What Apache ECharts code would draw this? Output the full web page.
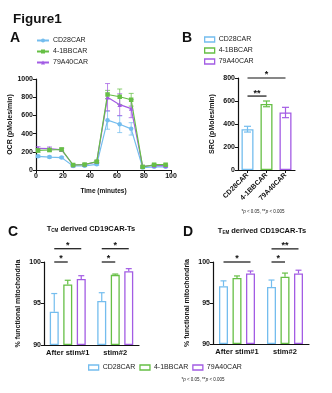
<!DOCTYPE html>
<html>
<head>
<meta charset="utf-8">
<script src="https://cdn.jsdelivr.net/npm/echarts@6/dist/echarts.min.js"></script>
<style>
  html, body { margin: 0; padding: 0; background: #fff; }
  #main { width: 332px; height: 393px; }
</style>
</head>
<body>
<div id="main"></div>
<script>
// ---- panel A : OCR time course ----
var times = [1.5, 10, 19, 27.5, 36, 45, 53, 62, 70.5, 79, 87.5, 96];
var ocrCD28 = [150, 142, 136, 44, 46, 62, 548, 503, 452, 27, 35, 35];
var ocrCD28Sd = [12, 10, 10, 8, 8, 10, 100, 92, 68, 8, 8, 8];
var ocr41BB = [215, 220, 225, 55, 60, 92, 830, 805, 772, 35, 58, 58];
var ocr41BBSd = [20, 18, 18, 8, 8, 10, 45, 85, 70, 8, 8, 8];
var ocr79A40 = [238, 235, 222, 55, 60, 90, 800, 718, 675, 40, 50, 48];
var ocr79A40Sd = [18, 18, 15, 8, 8, 10, 150, 120, 100, 8, 8, 8];

// ---- panel B : SRC ----
var cars = ['CD28CAR', '4-1BBCAR', '79A40CAR'];
var src = [355, 575, 500];
var srcSd = [25, 25, 45];
// [from, to, level]
var sigB = [[0, 1, 643], [0, 2, 800]];
var sigBText = ['**', '*'];

// ---- panels C / D : % functional mitochondria ----
var stims = ['After stim#1', 'stim#2'];
var tcmCD28 = [94.0, 95.3], tcmCD28Sd = [2.2, 1.0];
var tcm41BB = [97.3, 98.45], tcm41BBSd = [0.5, 0.1];
var tcm79A40 = [97.95, 98.9], tcm79A40Sd = [0.4, 0.3];
var temCD28 = [97.05, 96.95], temCD28Sd = [0.65, 0.85];
var tem41BB = [98.05, 98.2], tem41BBSd = [0.25, 0.45];
var tem79A40 = [98.6, 98.6], tem79A40Sd = [0.3, 0.4];
// [category, fromBar, toBar, level]
var sigC = [[0, 0, 1, 100.0], [0, 0, 2, 101.6], [1, 0, 1, 100.0], [1, 0, 2, 101.6]];
var sigCText = ['*', '*', '*', '*'];
var sigD = [[0, 0, 2, 100.0], [1, 0, 1, 100.0], [1, 0, 2, 101.6]];
var sigDText = ['*', '*', '**'];

var colors = ['#74BDEE', '#66BF45', '#A35CE4'];
var FONT = 'Liberation Sans';
var BW = 9;        // bar width in C / D
var BSTEP = BW * 1.5; // bar width + 50% gap

var chart = echarts.init(document.getElementById('main'));

function axisBase(extra) {
  var a = {
    axisLine: { show: true, lineStyle: { color: '#111', width: 1.2 } },
    axisTick: { show: true, length: 3, lineStyle: { color: '#111', width: 1 } },
    axisLabel: { fontSize: 7, fontWeight: 'bold', color: '#111', margin: 3, fontFamily: FONT,
      formatter: function (v) { return String(v); } },
    splitLine: { show: false },
    nameTextStyle: { fontSize: 7, fontWeight: 'bold', color: '#111', fontFamily: FONT }
  };
  for (var k in extra) a[k] = extra[k];
  return a;
}

function pairs(xs, ys) {
  return xs.map(function (x, i) { return [x, ys[i]]; });
}
function triples(xs, ys, sd) {
  return xs.map(function (x, i) { return [x, ys[i], sd[i]]; });
}

function lineSeries(name, vals, color, symbol) {
  return {
    name: name, type: 'line', xAxisIndex: 0, yAxisIndex: 0,
    data: pairs(times, vals), symbol: symbol, symbolSize: 4.5,
    lineStyle: { color: color, width: 1.2 }, itemStyle: { color: color },
    silent: true, z: 3
  };
}

function errA(vals, sd, color) {
  return {
    type: 'custom', xAxisIndex: 0, yAxisIndex: 0, data: triples(times, vals, sd),
    encode: { x: 0, y: 1 }, silent: true, z: 2,
    renderItem: function (params, api) {
      var hi = api.coord([api.value(0), api.value(1) + api.value(2)]);
      var lo = api.coord([api.value(0), api.value(1) - api.value(2)]);
      var st = { stroke: color, lineWidth: 1, opacity: 0.75 };
      return { type: 'group', children: [
        { type: 'line', shape: { x1: hi[0], y1: hi[1], x2: lo[0], y2: lo[1] }, style: st },
        { type: 'line', shape: { x1: hi[0] - 2.5, y1: hi[1], x2: hi[0] + 2.5, y2: hi[1] }, style: st },
        { type: 'line', shape: { x1: lo[0] - 2.5, y1: lo[1], x2: lo[0] + 2.5, y2: lo[1] }, style: st }
      ] };
    }
  };
}

// panel B bars: one series per CAR, overlapping so each sits on its own category
function barB(i) {
  var d = cars.map(function (c, j) { return j === i ? src[j] : '-'; });
  return {
    name: cars[i] + '|B', type: 'bar', xAxisIndex: 1, yAxisIndex: 1, data: d,
    barWidth: 12, barGap: '-100%', silent: true,
    itemStyle: { color: '#fff', borderColor: colors[i], borderWidth: 1.3 }
  };
}

var errB = {
  type: 'custom', xAxisIndex: 1, yAxisIndex: 1,
  data: cars.map(function (c, i) { return [i, src[i], srcSd[i]]; }),
  encode: { x: 0, y: 1 }, silent: true, z: 3,
  renderItem: function (params, api) {
    var hi = api.coord([api.value(0), api.value(1) + api.value(2)]);
    var lo = api.coord([api.value(0), api.value(1) - api.value(2)]);
    var st = { stroke: colors[params.dataIndex], lineWidth: 1.2 };
    return { type: 'group', children: [
      { type: 'line', shape: { x1: hi[0], y1: hi[1], x2: lo[0], y2: lo[1] }, style: st },
      { type: 'line', shape: { x1: hi[0] - 3.5, y1: hi[1], x2: hi[0] + 3.5, y2: hi[1] }, style: st },
      { type: 'line', shape: { x1: lo[0] - 3.5, y1: lo[1], x2: lo[0] + 3.5, y2: lo[1] }, style: st }
    ] };
  }
};

function starText(x, y, txt) {
  return { type: 'text', x: x, y: y - 3,
    style: { text: txt, textAlign: 'center', textVerticalAlign: 'middle', fill: '#111',
      font: 'bold 9px "' + FONT + '"' } };
}

var sigBSeries = {
  type: 'custom', xAxisIndex: 1, yAxisIndex: 1, data: sigB,
  encode: { x: 0, y: 2 }, silent: true, clip: false, z: 4,
  renderItem: function (params, api) {
    var p1 = api.coord([api.value(0), api.value(2)]);
    var p2 = api.coord([api.value(1), api.value(2)]);
    return { type: 'group', children: [
      { type: 'line', shape: { x1: p1[0], y1: p1[1], x2: p2[0], y2: p2[1] }, style: { stroke: '#111', lineWidth: 1.2 } },
      starText((p1[0] + p2[0]) / 2, p1[1], sigBText[params.dataIndex])
    ] };
  }
};

function barCD(name, vals, color, gi) {
  return {
    name: name, type: 'bar', xAxisIndex: gi, yAxisIndex: gi, data: vals,
    barWidth: BW, barGap: '50%', silent: true,
    itemStyle: { color: '#fff', borderColor: color, borderWidth: 1.3 }
  };
}

function errCD(vals, sd, k, gi) {
  return {
    type: 'custom', xAxisIndex: gi, yAxisIndex: gi,
    data: vals.map(function (v, i) { return [i, v, sd[i]]; }),
    encode: { x: 0, y: 1 }, silent: true, z: 3,
    renderItem: function (params, api) {
      var c = api.coord([api.value(0), api.value(1)]);
      var t = api.coord([api.value(0), api.value(1) + api.value(2)]);
      var x = c[0] + (k - 1) * BSTEP;
      var st = { stroke: colors[k], lineWidth: 1.2 };
      return { type: 'group', children: [
        { type: 'line', shape: { x1: x, y1: c[1], x2: x, y2: t[1] }, style: st },
        { type: 'line', shape: { x1: x - 3, y1: t[1], x2: x + 3, y2: t[1] }, style: st }
      ] };
    }
  };
}

function sigCD(data, labels, gi) {
  return {
    type: 'custom', xAxisIndex: gi, yAxisIndex: gi, data: data,
    encode: { x: 0, y: 3 }, silent: true, clip: false, z: 4,
    renderItem: function (params, api) {
      var p = api.coord([api.value(0), api.value(3)]);
      var x1 = p[0] + (api.value(1) - 1) * BSTEP;
      var x2 = p[0] + (api.value(2) - 1) * BSTEP;
      return { type: 'group', children: [
        { type: 'line', shape: { x1: x1, y1: p[1], x2: x2, y2: p[1] }, style: { stroke: '#111', lineWidth: 1.2 } },
        starText((x1 + x2) / 2, p[1], labels[params.dataIndex])
      ] };
    }
  };
}

function hollowItem(name, i) {
  return { name: name, icon: 'rect', itemStyle: { color: '#fff', borderColor: colors[i], borderWidth: 1.3 } };
}
var legendText = { fontSize: 7, color: '#222', fontFamily: FONT, padding: [0, 0, 0, -1] };
function stripTag(n) { return n.split('|')[0]; }

var footRich = {
  n: { fontSize: 4.5, fontFamily: FONT, fill: '#222' },
  i: { fontSize: 4.5, fontFamily: FONT, fontStyle: 'italic', fill: '#222' }
};

var catLabel = { fontSize: 7.5, fontWeight: 'bold', color: '#111', margin: 4, fontFamily: FONT, interval: 0 };

var option = {
  animation: false,
  backgroundColor: '#fff',
  textStyle: { fontFamily: FONT },
  grid: [
    { left: 36, top: 79, width: 135, height: 91 },
    { left: 238, top: 78, width: 57, height: 92 },
    { left: 44, top: 262, width: 95, height: 83 },
    { left: 213, top: 262, width: 96, height: 82 }
  ],
  xAxis: [
    axisBase({ gridIndex: 0, type: 'value', min: 0, max: 100, interval: 20,
      name: 'Time (minutes)', nameLocation: 'middle', nameGap: 18,
      nameTextStyle: { fontSize: 6.5, fontWeight: 'bold', color: '#111', fontFamily: FONT } }),
    axisBase({ gridIndex: 1, type: 'category', data: cars,
      axisTick: { show: true, alignWithLabel: true, length: 3, lineStyle: { color: '#111', width: 1 } },
      axisLabel: { rotate: 45, fontSize: 7, fontWeight: 'bold', color: '#111', margin: 4, fontFamily: FONT, interval: 0 } }),
    axisBase({ gridIndex: 2, type: 'category', data: stims, axisTick: { show: false }, axisLabel: catLabel }),
    axisBase({ gridIndex: 3, type: 'category', data: stims, axisTick: { show: false }, axisLabel: catLabel })
  ],
  yAxis: [
    axisBase({ gridIndex: 0, type: 'value', min: 0, max: 1000, interval: 200,
      name: 'OCR (pMoles/min)', nameLocation: 'middle', nameGap: 20 }),
    axisBase({ gridIndex: 1, type: 'value', min: 0, max: 800, interval: 200,
      name: 'SRC (pMoles/min)', nameLocation: 'middle', nameGap: 22 }),
    axisBase({ gridIndex: 2, type: 'value', min: 90, max: 100, interval: 5, startValue: 90,
      name: '% functional mitochondria', nameLocation: 'middle', nameGap: 22 }),
    axisBase({ gridIndex: 3, type: 'value', min: 90, max: 100, interval: 5, startValue: 90,
      name: '% functional mitochondria', nameLocation: 'middle', nameGap: 22 })
  ],
  legend: [
    { orient: 'vertical', left: 36, top: 37, padding: 0, itemWidth: 12, itemHeight: 5, itemGap: 4,
      textStyle: legendText, formatter: stripTag, selectedMode: false,
      data: ['CD28CAR', '4-1BBCAR', '79A40CAR'] },
    { orient: 'vertical', left: 204, top: 36, padding: 0, itemWidth: 10, itemHeight: 5, itemGap: 4,
      textStyle: legendText, formatter: stripTag, selectedMode: false,
      data: cars.map(function (c, i) { return hollowItem(c + '|B', i); }) },
    { orient: 'horizontal', left: 88, top: 364, padding: 0, itemWidth: 10, itemHeight: 5, itemGap: 4,
      textStyle: { fontSize: 7, color: '#222', fontFamily: FONT, padding: [0, 0, 0, -1] },
      formatter: stripTag, selectedMode: false,
      data: cars.map(function (c, i) { return hollowItem(c + '|C', i); }) }
  ],
  graphic: [
    { type: 'text', x: 13, y: 12, style: { text: 'Figure1', font: 'bold 13.5px "' + FONT + '"', fill: '#111' } },
    { type: 'text', x: 10, y: 31, style: { text: 'A', font: 'bold 14px "' + FONT + '"', fill: '#111' } },
    { type: 'text', x: 182, y: 31, style: { text: 'B', font: 'bold 14px "' + FONT + '"', fill: '#111' } },
    { type: 'text', x: 8, y: 225, style: { text: 'C', font: 'bold 14px "' + FONT + '"', fill: '#111' } },
    { type: 'text', x: 183, y: 225, style: { text: 'D', font: 'bold 14px "' + FONT + '"', fill: '#111' } },
    { type: 'text', x: 91, y: 229, style: {
      text: '{t|T}{s|CM}{t| derived CD19CAR-Ts}', textAlign: 'center', textVerticalAlign: 'middle',
      rich: { t: { fontSize: 7.5, fontWeight: 'bold', fontFamily: FONT, fill: '#111', lineHeight: 9 },
              s: { fontSize: 4.5, fontWeight: 'bold', fontFamily: FONT, fill: '#111', lineHeight: 9, verticalAlign: 'bottom' } } } },
    { type: 'text', x: 262, y: 231, style: {
      text: '{t|T}{s|EM}{t| derived CD19CAR-Ts}', textAlign: 'center', textVerticalAlign: 'middle',
      rich: { t: { fontSize: 7.5, fontWeight: 'bold', fontFamily: FONT, fill: '#111', lineHeight: 9 },
              s: { fontSize: 4.5, fontWeight: 'bold', fontFamily: FONT, fill: '#111', lineHeight: 9, verticalAlign: 'bottom' } } } },
    { type: 'text', x: 263, y: 212, style: {
      text: '{n|*}{i|p}{n| < 0.05, **}{i|p}{n| < 0.005}', textAlign: 'center', textVerticalAlign: 'middle', rich: footRich } },
    { type: 'text', x: 203, y: 380, style: {
      text: '{n|*}{i|p}{n| < 0.05, **}{i|p}{n| < 0.005}', textAlign: 'center', textVerticalAlign: 'middle', rich: footRich } }
  ],
  series: [
    errA(ocrCD28, ocrCD28Sd, colors[0]),
    errA(ocr41BB, ocr41BBSd, colors[1]),
    errA(ocr79A40, ocr79A40Sd, colors[2]),
    lineSeries('CD28CAR', ocrCD28, colors[0], 'circle'),
    lineSeries('79A40CAR', ocr79A40, colors[2], 'triangle'),
    lineSeries('4-1BBCAR', ocr41BB, colors[1], 'rect'),

    barB(0), barB(1), barB(2), errB, sigBSeries,

    barCD('CD28CAR|C', tcmCD28, colors[0], 2),
    barCD('4-1BBCAR|C', tcm41BB, colors[1], 2),
    barCD('79A40CAR|C', tcm79A40, colors[2], 2),
    errCD(tcmCD28, tcmCD28Sd, 0, 2),
    errCD(tcm41BB, tcm41BBSd, 1, 2),
    errCD(tcm79A40, tcm79A40Sd, 2, 2),
    sigCD(sigC, sigCText, 2),

    barCD('CD28CAR|D', temCD28, colors[0], 3),
    barCD('4-1BBCAR|D', tem41BB, colors[1], 3),
    barCD('79A40CAR|D', tem79A40, colors[2], 3),
    errCD(temCD28, temCD28Sd, 0, 3),
    errCD(tem41BB, tem41BBSd, 1, 3),
    errCD(tem79A40, tem79A40Sd, 2, 3),
    sigCD(sigD, sigDText, 3)
  ]
};

chart.setOption(option);
</script>
</body>
</html>
